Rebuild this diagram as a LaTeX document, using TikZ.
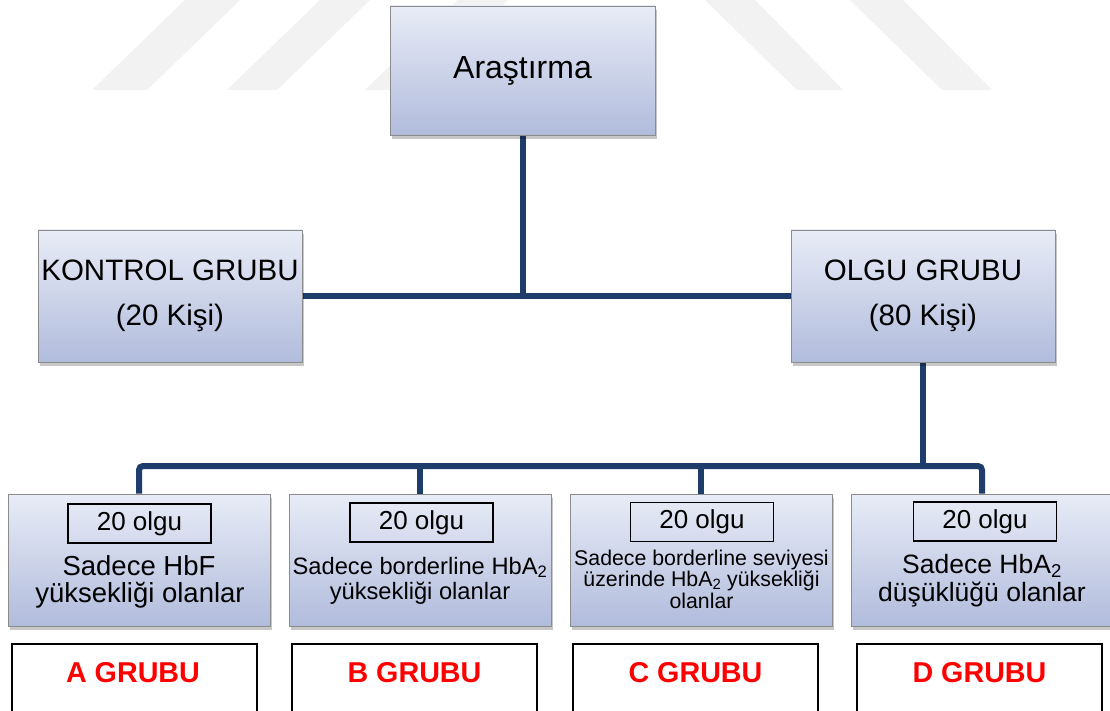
\documentclass[tikz,border=0pt]{standalone}
\usepackage{fontspec}
\setmainfont{Liberation Sans}
\usetikzlibrary{shadows,backgrounds}
\definecolor{boxtop}{RGB}{232,236,247}
\definecolor{boxbot}{RGB}{177,188,220}
\definecolor{conncol}{RGB}{31,61,107}
\definecolor{wmark}{RGB}{242,242,242}
\definecolor{redtxt}{RGB}{255,0,0}
\definecolor{boxline}{RGB}{140,140,140}
\begin{document}
\begin{tikzpicture}[x=1pt,y=-1pt,
  gbox/.style={draw=boxline, line width=0.8pt, top color=boxtop, bottom color=boxbot,
    inner sep=0pt, align=center,
    drop shadow={shadow xshift=1.5pt, shadow yshift=-4pt, opacity=0.22, fill=black}},
  topbox/.style={gbox, minimum width=265pt, minimum height=129pt, font=\fontsize{32}{38}\selectfont},
  midbox/.style={gbox, minimum width=264pt, minimum height=132pt, font=\fontsize{29.5}{45}\selectfont},
  lowbox/.style={gbox, minimum width=262pt, minimum height=132pt},
  countbox/.style={draw=black, line width=1.2pt, minimum width=143pt, minimum height=39pt,
    inner sep=0pt, font=\fontsize{26}{30}\selectfont},
  linetxt/.style={anchor=base, inner sep=0pt},
  grpbox/.style={draw=black, line width=1.2pt, fill=white, minimum width=245pt, minimum height=72pt,
    inner sep=0pt},
  grptxt/.style={anchor=base, inner sep=0pt, text=redtxt, font=\bfseries\fontsize{28.7}{32}\selectfont},
  conn/.style={draw=conncol, line width=6pt},
  wm/.style={fill=wmark, draw=none}
]
\useasboundingbox (0,0) rectangle (1110,711);

% boxes
\node[topbox] (ar) at (522.5,70.5) {Araştırma};
\node[midbox] (kon) at (170,296) {KONTROL GRUBU\\(20 Kişi)};
\node[midbox] (olg) at (923,296) {OLGU GRUBU\\(80 Kişi)};

\node[lowbox] (ba) at (139,560) {};
\node[lowbox] (bb) at (420,560) {};
\node[lowbox] (bc) at (701,560) {};
\node[lowbox] (bd) at (982,560) {};

\node[countbox] (ca) at (139.5,523.5) {20 olgu};
\node[countbox] (cb) at (421.5,522.5) {20 olgu};
\node[countbox] (cc) at (702,522) {20 olgu};
\node[countbox] (cd) at (985,521.5) {20 olgu};

\node[linetxt, font=\fontsize{27.5}{30}\selectfont] (a1) at (139,575) {Sadece HbF};
\node[linetxt, font=\fontsize{27.5}{30}\selectfont] (a2) at (140,602) {yüksekliği olanlar};

\node[linetxt, font=\fontsize{23.7}{26}\selectfont] (b1) at (420,574) {Sadece borderline HbA\textsubscript{2}};
\node[linetxt, font=\fontsize{23.7}{26}\selectfont] (b2) at (420,599) {yüksekliği olanlar};

\node[linetxt, font=\fontsize{21.3}{24}\selectfont] (c1) at (701.5,565) {Sadece borderline seviyesi};
\node[linetxt, font=\fontsize{21.3}{24}\selectfont] (c2) at (701.5,586.5) {üzerinde HbA\textsubscript{2} yüksekliği};
\node[linetxt, font=\fontsize{21.3}{24}\selectfont] (c3) at (701.5,608.5) {olanlar};

\node[linetxt, font=\fontsize{26.5}{30}\selectfont] (d1) at (982,573.5) {Sadece HbA\textsubscript{2}};
\node[linetxt, font=\fontsize{26.5}{30}\selectfont] (d2) at (982,601) {düşüklüğü olanlar};

% group label boxes
\node[grpbox] (ga) at (134.5,680) {};
\node[grpbox] (gb) at (414.5,680) {};
\node[grpbox] (gc) at (695.5,680) {};
\node[grpbox] (gd) at (979.5,680) {};
\node[grptxt] (ta) at (133,682) {A GRUBU};
\node[grptxt] (tb) at (414.5,682) {B GRUBU};
\node[grptxt] (tc) at (695.5,682) {C GRUBU};
\node[grptxt] (td) at (979.5,682) {D GRUBU};

% connectors and background
\coordinate (bus) at (0,466);
\begin{scope}[on background layer]
\fill[white] (0,0) rectangle (1110,711);
\fill[wm] (92,90) -- (147,90) -- (240,0) -- (185,0) -- cycle;
\fill[wm] (227,90) -- (277,90) -- (370,0) -- (320,0) -- cycle;
\fill[wm] (365,90) -- (415,90) -- (508,0) -- (458,0) -- cycle;
\fill[wm] (705,0) -- (755,0) -- (843,90) -- (797,90) -- cycle;
\fill[wm] (850,0) -- (903,0) -- (992,90) -- (942,90) -- cycle;
\draw[conn] (ar.south) -- (ar.south |- kon.east);
\draw[conn] (kon.east) -- (olg.west);
\draw[conn] (olg.south) -- (olg.south |- bus);
\draw[conn, rounded corners=4pt] (ba.north) -- (ba.north |- bus) -- (bd.north |- bus) -- (bd.north);
\draw[conn] (bb.north) -- (bb.north |- bus);
\draw[conn] (bc.north) -- (bc.north |- bus);
\end{scope}
\end{tikzpicture}
\end{document}
